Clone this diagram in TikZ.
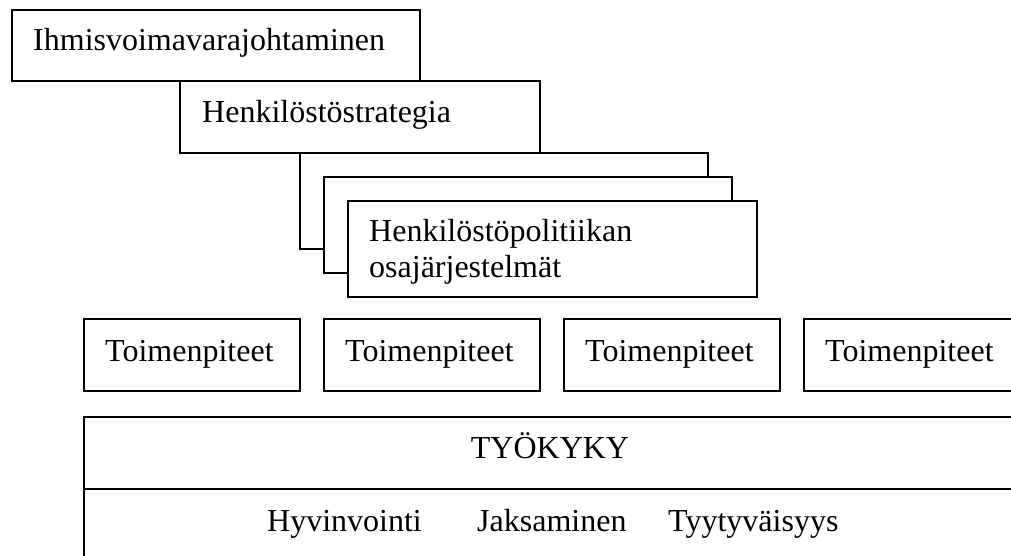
\documentclass[tikz,border=0pt]{standalone}
\usepackage{fontspec}
\setmainfont{Liberation Serif}
\begin{document}
\begin{tikzpicture}[x=1pt,y=-1pt,
  boxline/.style={draw=black,line width=1.6pt,fill=white},
  lbl/.style={anchor=base west,inner sep=0pt,font=\fontsize{32}{36}\selectfont,align=left},
  clbl/.style={anchor=base,inner sep=0pt,font=\fontsize{32}{36}\selectfont}]
\useasboundingbox (0,0) rectangle (1011,556);
\clip (0,0) rectangle (1011,556);
% top boxes
\draw[boxline] (12,10) rectangle (420,81);
\node[lbl] (ihm) at (33,51) {Ihmisvoimavarajohtaminen};
\draw[boxline] (180,81) rectangle (540,153);
\node[lbl] (hst) at (202,123) {Henkilöstöstrategia};
% stacked boxes
\draw[boxline] (300,153) rectangle (708,249);
\draw[boxline] (324,177) rectangle (732,273);
\draw[boxline] (348,201) rectangle (757,297);
\node[lbl] (hpo) at (369,277) {Henkilöstöpolitiikan\\osajärjestelmät};
% Toimenpiteet
\foreach \i/\x in {1/84,2/324,3/564,4/804}{
  \draw[boxline] (\x,319) rectangle ++(216,72);
  \node[lbl] (toim\i) at (\x+21,361) {Toimenpiteet};
}
% TYOKYKY
\draw[boxline] (84,417) rectangle (1020,580);
\draw[line width=1.6pt] (84,489) -- (1020,489);
\node[clbl] (tyk) at (550,458) {TYÖKYKY};
\node[lbl] (hyv) at (267,531) {Hyvinvointi};
\node[lbl] (jak) at (477,531) {Jaksaminen};
\node[lbl] (tyy) at (668,531) {Tyytyväisyys};
\end{tikzpicture}
\end{document}
